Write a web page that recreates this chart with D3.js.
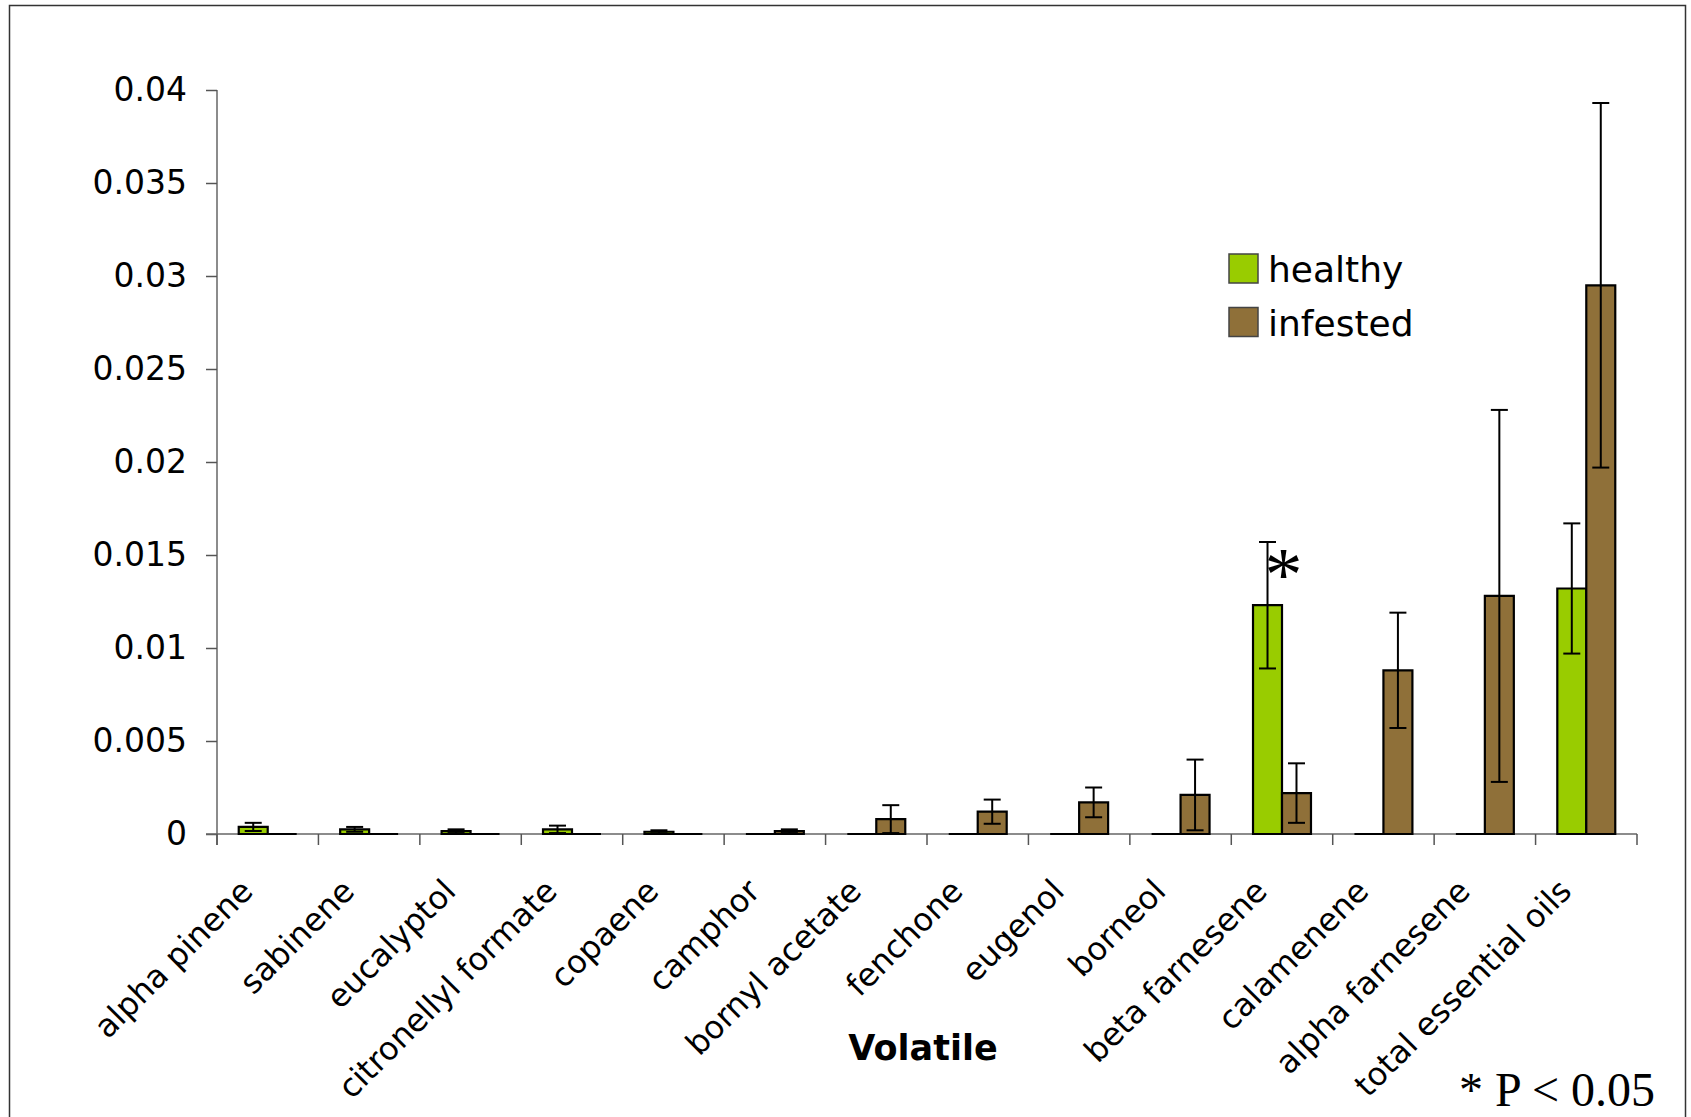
<!DOCTYPE html>
<html>
<head>
<meta charset="utf-8">
<script src="https://cdn.jsdelivr.net/npm/d3@7"></script>
<style>
  html, body { margin: 0; padding: 0; background: #fff; }
  svg { display: block; }
  text { fill: #000; }
</style>
</head>
<body>
<script>
// Volatile emissions, healthy vs infested plants (mean ± SE)
const categories = ["alpha pinene", "sabinene", "eucalyptol", "citronellyl formate", "copaene",
  "camphor", "bornyl acetate", "fenchone", "eugenol", "borneol", "beta farnesene",
  "calamenene", "alpha farnesene", "total essential oils"];
const seriesNames = ["healthy", "infested"];
const healthy     = [0.00038, 0.00025, 0.00015, 0.00025, 0.00012, 0, 0, 0, 0, 0, 0.0123, 0, 0, 0.0132];
const healthyErr  = [0.00022, 0.00013, 0.0001, 0.0002, 0.00008, 0, 0, 0, 0, 0, 0.0034, 0, 0, 0.0035];
const infested    = [0, 0, 0, 0, 0, 0.00015, 0.0008, 0.0012, 0.0017, 0.0021, 0.0022, 0.0088, 0.0128, 0.0295];
const infestedErr = [0, 0, 0, 0, 0, 0.0001, 0.00075, 0.00065, 0.0008, 0.0019, 0.0016, 0.0031, 0.01, 0.0098];
const yTicks = [0, 0.005, 0.01, 0.015, 0.02, 0.025, 0.03, 0.035, 0.04];
const yTickLabels = ["0", "0.005", "0.01", "0.015", "0.02", "0.025", "0.03", "0.035", "0.04"];
const significant = ["beta farnesene"];
const colors = { healthy: "#99CC00", infested: "#8F7039" };

const SANS = '"DejaVu Sans", Verdana, sans-serif';
const SERIF = '"Liberation Serif", "Times New Roman", serif';

const W = 1691, H = 1117;
const plotL = 217, plotR = 1637, plotT = 90, plotB = 834;

const svg = d3.select("body").append("svg").attr("width", W).attr("height", H)
  .style("font-family", SANS);
svg.append("rect").attr("width", W).attr("height", H).attr("fill", "#fff");

// outer frame
svg.append("rect").attr("x", 9.5).attr("y", 5.5).attr("width", 1676).attr("height", 1140)
  .attr("fill", "none").attr("stroke", "#333").attr("stroke-width", 1.5);

const x0 = d3.scaleBand().domain(categories).range([plotL, plotR]).paddingInner(0).paddingOuter(0);
const bw = x0.bandwidth();
const gap = bw * 0.75 / 3.5;
const x1 = d3.scaleBand().domain(seriesNames).range([gap, bw - gap]).padding(0);
const y = d3.scaleLinear().domain([0, 0.04]).range([plotB, plotT]);

const rows = categories.map((c, i) => ({
  cat: c,
  vals: [
    { s: "healthy", v: healthy[i], e: healthyErr[i] },
    { s: "infested", v: infested[i], e: infestedErr[i] }
  ]
}));

// y axis
const yAxis = d3.axisLeft(y).tickValues(yTicks).tickFormat((d, i) => yTickLabels[i])
  .tickSize(11).tickPadding(19);
const gy = svg.append("g").attr("transform", `translate(${plotL},0)`).call(yAxis);
gy.attr("font-family", null).attr("font-size", null);
gy.select(".domain").attr("stroke", "#666").attr("stroke-width", 1.5).attr("d", `M0,${plotT}V${plotB + 11}`);
gy.selectAll(".tick line").attr("stroke", "#555").attr("stroke-width", 1.5);
gy.selectAll(".tick text").style("font-family", SANS).attr("font-size", 33).attr("fill", "#000");

// x axis: ticks on category boundaries
const gx = svg.append("g").attr("transform", `translate(0,${plotB})`);
gx.append("path").attr("d", `M${plotL - 11},0H${plotR}`).attr("stroke", "#666").attr("stroke-width", 1.5).attr("fill", "none");
const bounds = categories.map(c => x0(c)).concat([plotR]);
gx.selectAll("line.tk").data(bounds).join("line").attr("class", "tk")
  .attr("x1", d => d).attr("x2", d => d).attr("y1", 0).attr("y2", 11)
  .attr("stroke", "#555").attr("stroke-width", 1.5);

// rotated category labels
svg.append("g").selectAll("text").data(categories).join("text")
  .attr("transform", d => `translate(${x0(d) + bw / 2 - 13},${plotB + 59}) rotate(-45)`)
  .attr("text-anchor", "end")
  .attr("font-size", 32)
  .text(d => d);

// bars
const groups = svg.append("g").selectAll("g").data(rows).join("g")
  .attr("transform", d => `translate(${x0(d.cat)},0)`);

groups.selectAll("path.bar").data(d => d.vals).join("path").attr("class", "bar")
  .attr("d", d => {
    const xa = x1(d.s), xb = x1(d.s) + x1.bandwidth();
    return `M${xa},${y(0)}V${y(d.v)}H${xb}V${y(0)}Z`;
  })
  .attr("fill", d => colors[d.s])
  .attr("stroke", "#000").attr("stroke-width", 2.2).attr("stroke-linejoin", "miter");

// error bars
const capHalf = 8.5;
const eb = groups.selectAll("g.err").data(d => d.vals.filter(v => v.e > 0)).join("g").attr("class", "err")
  .attr("stroke", "#000").attr("stroke-width", 2);
eb.append("line")
  .attr("x1", d => x1(d.s) + x1.bandwidth() / 2).attr("x2", d => x1(d.s) + x1.bandwidth() / 2)
  .attr("y1", d => y(d.v + d.e)).attr("y2", d => y(Math.max(0, d.v - d.e)));
eb.append("line")
  .attr("x1", d => x1(d.s) + x1.bandwidth() / 2 - capHalf).attr("x2", d => x1(d.s) + x1.bandwidth() / 2 + capHalf)
  .attr("y1", d => y(d.v + d.e)).attr("y2", d => y(d.v + d.e));
eb.append("line")
  .attr("x1", d => x1(d.s) + x1.bandwidth() / 2 - capHalf).attr("x2", d => x1(d.s) + x1.bandwidth() / 2 + capHalf)
  .attr("y1", d => y(Math.max(0, d.v - d.e))).attr("y2", d => y(Math.max(0, d.v - d.e)));

// significance marker
rows.filter(r => significant.includes(r.cat)).forEach(r => {
  const h = r.vals[0];
  svg.append("text")
    .attr("x", x0(r.cat) + x1("healthy") + x1.bandwidth() + 1.5)
    .attr("y", y(h.v) - 5)
    .attr("text-anchor", "middle")
    .style("font-family", SERIF)
    .attr("font-size", 76)
    .text("*");
});

// legend
const lg = svg.append("g").attr("transform", "translate(1229,254)");
seriesNames.forEach((s, i) => {
  lg.append("rect").attr("x", 0).attr("y", i * 53.5).attr("width", 29).attr("height", 29)
    .attr("fill", colors[s]).attr("stroke", "#444").attr("stroke-width", 1.5);
  lg.append("text").attr("x", 39).attr("y", i * 53.5 + 28).attr("font-size", 36).text(s);
});

// axis title
svg.append("text").attr("x", 923).attr("y", 1060)
  .attr("text-anchor", "middle").attr("font-size", 35).attr("font-weight", "bold").text("Volatile");

// footnote
svg.append("text").attr("x", 1655).attr("y", 1106).attr("text-anchor", "end")
  .style("font-family", SERIF)
  .attr("font-size", 48).text("* P < 0.05");
</script>
</body>
</html>
